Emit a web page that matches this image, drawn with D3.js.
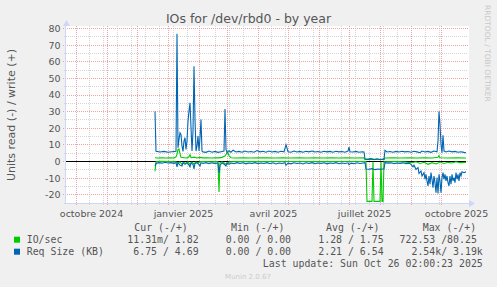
<!DOCTYPE html>
<html>
<head>
<meta charset="utf-8">
<script src="https://cdn.jsdelivr.net/npm/d3@7"></script>
<style>
body{margin:0;background:#f0f0f0;}
svg{display:block;}
.lbl{font-family:"DejaVu Sans",sans-serif;fill:#555;}
.mono{font-family:"DejaVu Sans Mono",monospace;fill:#555;font-size:9.9px;white-space:pre;}
</style>
</head>
<body>
<div id="display"></div>
<script>
const title_text = "IOs for /dev/rbd0 - by year"
const y_title = "Units read (-) / write (+)"
const x_tick_dates = ["2024-10-16","2025-01-16","2025-04-16","2025-07-16","2025-10-16"]
const x_tick_labels = ["octobre 2024","janvier 2025","avril 2025","juillet 2025","octobre 2025"]
const y_tick_values = [-20,-10,0,10,20,30,40,50,60,70,80]
const y_minor_values = [-25,-15,-5,5,15,25,35,45,55,65,75]

const legend_header = ["Cur (-/+)","Min (-/+)","Avg (-/+)","Max (-/+)"]
const legend_names = ["IO/sec","Req Size (KB)"]
const io_stats = ["11.31m/ 1.82 ","0.00 / 0.00 ","1.28 / 1.75 ","722.53 /80.25 "]
const req_stats = ["6.75 / 4.69 ","0.00 / 0.00 ","2.21 / 6.54 ","2.54k/ 3.19k"]
const last_update = "Last update: Sun Oct 26 02:00:23 2025"

// IO/sec read (drawn negative)
const io_read = [["2024-12-19",-6.2],["2024-12-20",-0.5],["2024-12-25",-0.2],["2025-01-03",-0.3],["2025-01-09",-0.5],["2025-01-11",-1.5],["2025-01-13",-0.5],["2025-01-15",-2],["2025-01-17",-0.8],["2025-01-19",-1.5],["2025-01-21",-0.5],["2025-01-23",-2],["2025-01-25",-0.6],["2025-01-27",-1.8],["2025-01-29",-0.5],["2025-01-31",-1.2],["2025-02-02",-0.4],["2025-02-07",-0.3],["2025-02-12",-0.5],["2025-02-17",-0.3],["2025-02-20",-0.5],["2025-02-21",-18.6],["2025-02-22",-1],["2025-02-24",-0.5],["2025-02-27",-1.5],["2025-03-01",-2],["2025-03-03",-0.5],["2025-03-12",-0.3],["2025-04-01",-0.4],["2025-05-01",-0.3],["2025-06-01",-0.4],["2025-07-01",-0.3],["2025-07-18",-0.3],["2025-07-19",-24.3],["2025-07-24",-24.3],["2025-07-25",-0.5],["2025-07-26",-24.3],["2025-08-01",-24.3],["2025-08-02",-0.5],["2025-08-03",-24.3],["2025-08-04",-24.3],["2025-08-05",-0.5],["2025-08-20",-0.3],["2025-09-02",-1],["2025-09-06",-0.5],["2025-09-10",-1.5],["2025-09-14",-0.8],["2025-09-18",-2],["2025-09-22",-1],["2025-09-26",-1.8],["2025-09-30",-0.6],["2025-10-04",-1.5],["2025-10-08",-0.8],["2025-10-12",-1.2],["2025-10-16",-0.5],["2025-10-20",-1],["2025-10-26",-0.8]]
// IO/sec write
const io_write = [["2024-12-19",2],["2024-12-22",1.8],["2024-12-26",2],["2024-12-30",1.8],["2025-01-03",1.9],["2025-01-07",1.8],["2025-01-09",2.5],["2025-01-10",4],["2025-01-11",7],["2025-01-12",7.2],["2025-01-13",4.5],["2025-01-14",2.2],["2025-01-17",2],["2025-01-20",1.8],["2025-01-22",2.5],["2025-01-23",3.8],["2025-01-24",2],["2025-01-27",2.3],["2025-01-30",1.8],["2025-02-02",2.2],["2025-02-05",1.9],["2025-02-09",2],["2025-02-13",1.8],["2025-02-17",2],["2025-02-21",1.9],["2025-02-24",2.2],["2025-02-27",3],["2025-03-01",4.8],["2025-03-02",5],["2025-03-03",3],["2025-03-05",2],["2025-03-09",1.8],["2025-03-17",2],["2025-03-25",1.8],["2025-04-02",1.9],["2025-04-10",2],["2025-04-18",1.8],["2025-04-26",2],["2025-05-04",1.8],["2025-05-12",1.9],["2025-05-20",1.8],["2025-05-28",2],["2025-06-05",1.8],["2025-06-13",1.9],["2025-06-21",1.8],["2025-06-29",2],["2025-07-07",1.8],["2025-07-16",1.9],["2025-07-17",1.0],["2025-07-24",1.1],["2025-07-31",0.9],["2025-08-05",1.0],["2025-08-06",1.8],["2025-08-14",1.9],["2025-08-22",1.8],["2025-08-30",2],["2025-09-07",1.8],["2025-09-15",1.9],["2025-09-22",1.8],["2025-09-28",2.2],["2025-09-29",3.2],["2025-09-30",2],["2025-10-08",1.8],["2025-10-16",1.9],["2025-10-26",1.8]]
// Req size read (drawn negative)
const req_read = [["2024-12-19",-3],["2024-12-20",-1.5],["2024-12-23",-1],["2024-12-26",-1.3],["2024-12-29",-0.8],["2025-01-01",-1.2],["2025-01-04",-1],["2025-01-07",-1.4],["2025-01-09",-1],["2025-01-10",-3.6],["2025-01-11",-1],["2025-01-13",-2.5],["2025-01-15",-3],["2025-01-16",-1],["2025-01-18",-2],["2025-01-20",-1],["2025-01-22",-2.5],["2025-01-23",-3.5],["2025-01-24",-1.2],["2025-01-26",-2],["2025-01-27",-4.8],["2025-01-28",-1.5],["2025-01-30",-1],["2025-02-01",-2.2],["2025-02-02",-3],["2025-02-03",-1],["2025-02-05",-1.5],["2025-02-08",-1],["2025-02-11",-1.6],["2025-02-14",-1.1],["2025-02-17",-1.4],["2025-02-20",-1.2],["2025-02-21",-7.2],["2025-02-22",-2.5],["2025-02-24",-1.2],["2025-02-26",-1.8],["2025-02-28",-3],["2025-03-01",-1],["2025-03-03",-2],["2025-03-05",-1.2],["2025-03-08",-1.6],["2025-03-11",-1],["2025-03-14",-1.5],["2025-03-17",-1.1],["2025-03-20",-1.7],["2025-03-23",-1.2],["2025-03-26",-1.5],["2025-03-29",-1],["2025-04-01",-1.6],["2025-04-04",-1.2],["2025-04-07",-1.5],["2025-04-10",-1],["2025-04-13",-1.6],["2025-04-16",-1.1],["2025-04-19",-1.8],["2025-04-22",-1.2],["2025-04-25",-1.5],["2025-04-28",-1],["2025-04-29",-2.6],["2025-05-01",-1.3],["2025-05-04",-1.7],["2025-05-07",-1.1],["2025-05-10",-1.5],["2025-05-13",-1.2],["2025-05-16",-1.8],["2025-05-19",-1.1],["2025-05-22",-1.5],["2025-05-25",-1],["2025-05-28",-1.6],["2025-05-31",-1.2],["2025-06-03",-1.5],["2025-06-06",-1.1],["2025-06-09",-1.7],["2025-06-12",-1.2],["2025-06-15",-1.5],["2025-06-18",-1],["2025-06-21",-1.6],["2025-06-24",-1.2],["2025-06-27",-1.5],["2025-06-30",-1.1],["2025-07-01",-2.2],["2025-07-03",-1.3],["2025-07-06",-1.6],["2025-07-09",-1.1],["2025-07-12",-1.5],["2025-07-15",-1.2],["2025-07-17",-1],["2025-07-18",-4.8],["2025-07-21",-5],["2025-07-24",-4.6],["2025-07-27",-5.2],["2025-07-30",-4.8],["2025-08-02",-5],["2025-08-05",-4.7],["2025-08-06",-1],["2025-08-09",-1.3],["2025-08-12",-1.1],["2025-08-15",-1.6],["2025-08-18",-1.2],["2025-08-21",-1.4],["2025-08-24",-1.1],["2025-08-27",-1.6],["2025-08-30",-1.3],["2025-09-01",-2],["2025-09-03",-3.5],["2025-09-04",-2.5],["2025-09-06",-5],["2025-09-08",-4],["2025-09-09",-7.5],["2025-09-11",-6],["2025-09-12",-9],["2025-09-14",-7],["2025-09-15",-11],["2025-09-16",-8],["2025-09-17",-12],["2025-09-18",-15],["2025-09-19",-9],["2025-09-20",-14],["2025-09-21",-7],["2025-09-22",-11],["2025-09-23",-16],["2025-09-24",-9],["2025-09-25",-13],["2025-09-26",-19],["2025-09-27",-10],["2025-09-28",-19.5],["2025-09-29",-8],["2025-09-30",-12],["2025-10-01",-19],["2025-10-02",-10],["2025-10-03",-7],["2025-10-04",-11],["2025-10-05",-8],["2025-10-06",-12],["2025-10-07",-9],["2025-10-08",-13],["2025-10-09",-15],["2025-10-10",-9],["2025-10-11",-14],["2025-10-12",-8],["2025-10-13",-12],["2025-10-14",-10],["2025-10-15",-13],["2025-10-16",-7],["2025-10-17",-11],["2025-10-18",-8],["2025-10-19",-12],["2025-10-20",-7],["2025-10-21",-9],["2025-10-22",-6.5],["2025-10-24",-7],["2025-10-26",-6.5]]
// Req size write
const req_write = [["2024-12-19",29.8],["2024-12-20",5.8],["2024-12-24",5.4],["2024-12-28",5.8],["2025-01-01",5.3],["2025-01-05",5.6],["2025-01-09",5.8],["2025-01-10",76.5],["2025-01-11",8],["2025-01-12",13],["2025-01-13",17],["2025-01-14",16],["2025-01-15",9],["2025-01-16",5.8],["2025-01-17",12],["2025-01-18",14],["2025-01-19",7],["2025-01-20",12],["2025-01-21",24],["2025-01-22",30],["2025-01-23",35],["2025-01-24",20],["2025-01-25",6],["2025-01-26",18],["2025-01-27",57],["2025-01-28",25],["2025-01-29",6],["2025-01-30",9],["2025-01-31",15],["2025-02-01",6],["2025-02-02",14],["2025-02-03",25],["2025-02-04",6],["2025-02-05",5.5],["2025-02-08",5.2],["2025-02-11",6],["2025-02-14",5.3],["2025-02-17",5.8],["2025-02-20",5.2],["2025-02-23",5.6],["2025-02-26",6],["2025-02-27",31.3],["2025-02-28",7],["2025-03-01",5],["2025-03-03",6.2],["2025-03-05",5.3],["2025-03-07",6.5],["2025-03-10",5.4],["2025-03-13",5.8],["2025-03-16",5.3],["2025-03-19",6],["2025-03-22",5.4],["2025-03-25",5.7],["2025-03-28",5.3],["2025-03-31",6.3],["2025-04-03",5.5],["2025-04-06",5.9],["2025-04-09",5.3],["2025-04-12",6],["2025-04-15",5.4],["2025-04-18",5.8],["2025-04-21",5.3],["2025-04-24",5.9],["2025-04-27",5.5],["2025-04-29",9.8],["2025-05-01",5.6],["2025-05-04",5.3],["2025-05-07",6],["2025-05-10",5.4],["2025-05-13",5.8],["2025-05-16",5.3],["2025-05-19",5.9],["2025-05-22",5.5],["2025-05-25",6],["2025-05-28",5.4],["2025-05-31",5.7],["2025-06-03",5.3],["2025-06-06",5.9],["2025-06-09",5.5],["2025-06-12",5.8],["2025-06-15",5.3],["2025-06-18",5.9],["2025-06-21",5.5],["2025-06-24",5.7],["2025-06-27",5.3],["2025-06-30",6],["2025-07-01",8.4],["2025-07-02",5.6],["2025-07-05",5.4],["2025-07-08",5.8],["2025-07-11",5.3],["2025-07-14",5.6],["2025-07-16",5.4],["2025-07-17",1.2],["2025-07-20",1.0],["2025-07-23",1.4],["2025-07-26",0.8],["2025-07-29",1.3],["2025-08-01",0.9],["2025-08-04",1.2],["2025-08-05",1.0],["2025-08-06",6.4],["2025-08-08",5.4],["2025-08-11",5.7],["2025-08-14",5.3],["2025-08-17",5.8],["2025-08-20",5.4],["2025-08-23",5.9],["2025-08-26",5.5],["2025-08-29",5.7],["2025-09-01",5.3],["2025-09-04",5.9],["2025-09-07",5.5],["2025-09-10",5],["2025-09-12",6],["2025-09-15",5.4],["2025-09-18",5.8],["2025-09-21",5.2],["2025-09-24",6],["2025-09-27",5.5],["2025-09-28",12],["2025-09-29",29.8],["2025-09-30",22],["2025-10-01",10],["2025-10-02",5],["2025-10-03",15.5],["2025-10-04",6],["2025-10-06",5.4],["2025-10-09",6],["2025-10-12",5.5],["2025-10-15",5.8],["2025-10-18",5.3],["2025-10-21",5.6],["2025-10-24",5.2],["2025-10-26",5]]

const width = 497, height = 287
const plot_left = 66, plot_right = 466, plot_top = 28, plot_bottom = 203
const green = "#00cc00", blue = "#0066b3"

const parse = d3.timeParse("%Y-%m-%d")

const svg = d3.select("#display").append("svg")
    .attr("width", width)
    .attr("height", height)
svg.append("rect").attr("width", width).attr("height", height).attr("fill", "#f0f0f0")

const x_scale = d3.scaleTime()
    .domain([parse("2024-09-21"), parse("2025-10-26")])
    .range([plot_left, plot_right])
const y_scale = d3.scaleLinear()
    .domain([-25.26, 80])
    .range([plot_bottom, plot_top])

// canvas
svg.append("rect").attr("x", plot_left).attr("y", plot_top - 2).attr("width", plot_right - plot_left + 3).attr("height", plot_bottom - plot_top + 2).attr("fill", "#fff")

const px = v => Math.round(v) + 0.5
const grid = svg.append("g").attr("shape-rendering", "crispEdges").attr("stroke-dasharray", "1,1")

// vertical grid: two week minor, month major
const months = d3.timeMonth.range(parse("2024-10-01"), parse("2025-10-27"))
const minor_days = d3.range(0, 28).map(i => d3.timeDay.offset(parse("2024-09-16"), i * 14))
    .filter(d => d > x_scale.domain()[0] && d < x_scale.domain()[1])
    .filter(d => !months.some(m => Math.abs(x_scale(m) - x_scale(d)) < 2))
grid.selectAll(".vmin").data(minor_days).join("line")
    .attr("x1", d => px(x_scale(d))).attr("x2", d => px(x_scale(d)))
    .attr("y1", plot_top - 2).attr("y2", plot_bottom + 2)
    .attr("stroke", "#d4d4d4")
grid.selectAll(".hmin").data(y_minor_values).join("line")
    .attr("x1", plot_left - 2).attr("x2", plot_right + 2)
    .attr("y1", d => px(y_scale(d))).attr("y2", d => px(y_scale(d)))
    .attr("stroke", "#d4d4d4")
grid.selectAll(".vmaj").data(months).join("line")
    .attr("x1", d => px(x_scale(d))).attr("x2", d => px(x_scale(d)))
    .attr("y1", plot_top - 2).attr("y2", plot_bottom + 3)
    .attr("stroke", "#eba3a3")
grid.selectAll(".hmaj").data(y_tick_values).join("line")
    .attr("x1", plot_left - 3).attr("x2", plot_right + 2)
    .attr("y1", d => px(y_scale(d))).attr("y2", d => px(y_scale(d)))
    .attr("stroke", "#eba3a3")

// zero line
svg.append("line")
    .attr("x1", plot_left).attr("x2", plot_right)
    .attr("y1", px(y_scale(0))).attr("y2", px(y_scale(0)))
    .attr("stroke", "#000").attr("shape-rendering", "crispEdges")

// axes lines + arrows (munin colours)
const axis_col = "#cfd6f8"
svg.append("line").attr("x1", px(plot_left) - 1).attr("x2", px(plot_left) - 1).attr("y1", plot_bottom + 1).attr("y2", 24)
    .attr("stroke", axis_col).attr("shape-rendering", "crispEdges")
svg.append("path").attr("d", `M${plot_left - 3},26 L${plot_left + 0.5},20 L${plot_left + 4},26 Z`).attr("fill", axis_col)
svg.append("line").attr("x1", plot_left - 1).attr("x2", plot_right + 5).attr("y1", px(plot_bottom)).attr("y2", px(plot_bottom))
    .attr("stroke", axis_col).attr("shape-rendering", "crispEdges")
svg.append("path").attr("d", `M${plot_right + 3},${plot_bottom - 3} L${plot_right + 9},${plot_bottom + 0.5} L${plot_right + 3},${plot_bottom + 4} Z`).attr("fill", axis_col)

// data lines
svg.append("clipPath").attr("id", "plotclip").append("rect")
    .attr("x", plot_left).attr("y", plot_top).attr("width", plot_right - plot_left).attr("height", plot_bottom - plot_top - 0.5)
const line_gen = d3.line()
    .x(d => x_scale(parse(d[0])))
    .y(d => y_scale(d[1]))
const plot = svg.append("g").attr("clip-path", "url(#plotclip)")
const series = [[io_read, green], [io_write, green], [req_read, blue], [req_write, blue]]
series.forEach(s => {
    plot.append("path")
        .attr("d", line_gen(s[0]))
        .attr("fill", "none")
        .attr("stroke", s[1])
        .attr("stroke-width", 1.1)
})

// tick labels
const gX = svg.append("g").attr("transform", `translate(0,${plot_bottom})`)
    .call(d3.axisBottom(x_scale)
        .tickValues(x_tick_dates.map(parse))
        .tickFormat((d, i) => x_tick_labels[i])
        .tickSize(0).tickPadding(0))
gX.select(".domain").remove()
gX.selectAll("text").attr("class", "lbl").attr("font-size", "9.5px").attr("dy", null).attr("y", 13.5).attr("fill", "#555")

const gY = svg.append("g").attr("transform", `translate(${plot_left},0)`)
    .call(d3.axisLeft(y_scale)
        .tickValues(y_tick_values)
        .tickFormat(d => String(d))
        .tickSize(0).tickPadding(0))
gY.select(".domain").remove()
gY.selectAll("text").attr("class", "lbl").attr("font-size", "9.5px").attr("x", -5.5).attr("dy", "3.4px").attr("fill", "#555")

// titles
svg.append("text").attr("class", "lbl").attr("x", 248.5).attr("y", 23)
    .attr("text-anchor", "middle").attr("font-size", "12.5px").text(title_text)
svg.append("text").attr("class", "lbl").attr("transform", "translate(14.5,115) rotate(-90)")
    .attr("text-anchor", "middle").attr("font-size", "11px").text(y_title)
svg.append("text").attr("transform", "translate(485,5) rotate(90)")
    .attr("font-family", "DejaVu Sans").attr("font-size", "7.5px").attr("fill", "#c8c8c8")
    .text("RRDTOOL / TOBI OETIKER")

// legend
const head_x = [134.3, 231, 326, 422.7]
legend_header.forEach((h, i) => {
    svg.append("text").attr("class", "mono").attr("x", head_x[i]).attr("y", 230.5).text(h)
})
const col_end = [204.6, 297, 389.6, 482.8]
const rows = [[legend_names[0], green, io_stats, 242.7], [legend_names[1], blue, req_stats, 254.7]]
rows.forEach(r => {
    svg.append("rect").attr("x", 14).attr("y", r[3] - 6).attr("width", 6).attr("height", 6).attr("fill", r[1])
    svg.append("text").attr("class", "mono").attr("x", 26.7).attr("y", r[3]).text(r[0])
    r[2].forEach((v, i) => {
        svg.append("text").attr("class", "mono").attr("x", col_end[i]).attr("y", r[3])
            .attr("text-anchor", "end").text(v)
    })
})
svg.append("text").attr("class", "mono").attr("x", 482.8).attr("y", 266.8)
    .attr("text-anchor", "end").text(last_update)
svg.append("text").attr("x", 248).attr("y", 279).attr("text-anchor", "middle")
    .attr("font-family", "DejaVu Sans").attr("font-size", "7px").attr("fill", "#cccccc")
    .text("Munin 2.0.67")
</script>
</body>
</html>
